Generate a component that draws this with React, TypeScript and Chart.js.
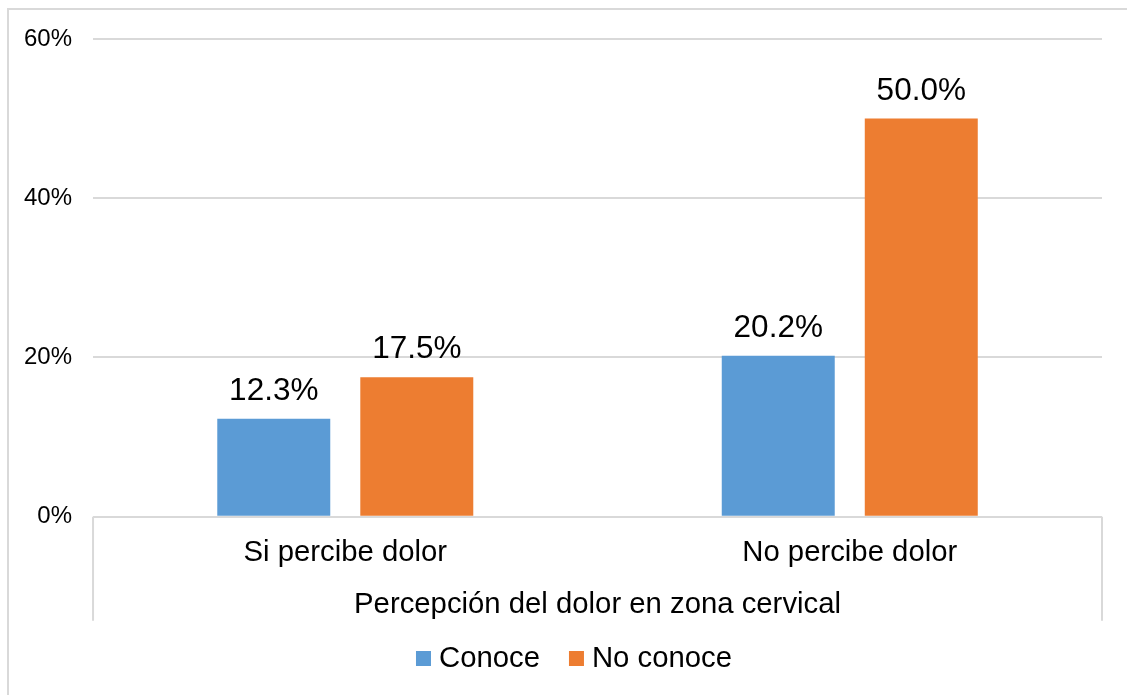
import React, { useEffect, useRef } from "react";
import { Chart, registerables } from "chart.js";

Chart.register(...registerables);

const categories = ["Si percibe dolor", "No percibe dolor"];
const conoce = [12.3, 20.2];
const noConoce = [17.5, 50.0];
const yTicks = [0, 20, 40, 60];
const seriesNames = ["Conoce", "No conoce"];
const axisTitle = "Percepción del dolor en zona cervical";

const FONT = '"Liberation Sans", Arial, sans-serif';
const GRID = "#d9d9d9";

const framePlugin = {
  id: "frame",
  beforeDraw(chart: any) {
    const ctx = chart.ctx;
    ctx.save();
    ctx.fillStyle = "#ffffff";
    ctx.fillRect(0, 0, chart.width, chart.height);
    ctx.fillStyle = GRID;
    ctx.fillRect(7, 8, 2, chart.height - 8);
    ctx.fillRect(7, 8, chart.width - 7, 2);
    ctx.restore();
  },
  afterDraw(chart: any) {
    const ctx = chart.ctx;
    const { left, right } = chart.chartArea;
    const y0 = chart.scales.y.getPixelForValue(0);
    ctx.save();
    ctx.strokeStyle = GRID;
    ctx.lineWidth = 2;
    ctx.beginPath();
    ctx.moveTo(left, y0);
    ctx.lineTo(left, y0 + 104);
    ctx.moveTo(right, y0);
    ctx.lineTo(right, y0 + 104);
    ctx.stroke();
    ctx.restore();
  },
};

const dataLabelPlugin = {
  id: "dataLabels",
  afterDatasetsDraw(chart: any) {
    const ctx = chart.ctx;
    ctx.save();
    ctx.font = `31.5px ${FONT}`;
    ctx.fillStyle = "#000000";
    ctx.textAlign = "center";
    ctx.textBaseline = "alphabetic";
    chart.data.datasets.forEach((ds: any, i: number) => {
      const meta = chart.getDatasetMeta(i);
      meta.data.forEach((bar: any, j: number) => {
        const v = ds.data[j] as number;
        ctx.fillText(v.toFixed(1) + "%", bar.x, bar.y - 19);
      });
    });
    ctx.restore();
  },
};

const legendPlugin = {
  id: "customLegend",
  afterDraw(chart: any) {
    const ctx = chart.ctx;
    ctx.save();
    ctx.font = `29.3px ${FONT}`;
    ctx.textBaseline = "alphabetic";
    ctx.textAlign = "left";
    const box = 15;
    const gapBoxText = 8;
    const gapItems = 29;
    const items = chart.data.datasets.map((ds: any) => ({
      label: ds.label as string,
      color: ds.backgroundColor as string,
      w: ctx.measureText(ds.label).width,
    }));
    let total = 0;
    items.forEach((it: any, i: number) => {
      total += box + gapBoxText + it.w + (i < items.length - 1 ? gapItems : 0);
    });
    const center = 574;
    let x = center - total / 2;
    const baseline = 667;
    items.forEach((it: any) => {
      ctx.fillStyle = it.color;
      ctx.fillRect(x, baseline - 16, box, box);
      ctx.fillStyle = "#000000";
      ctx.fillText(it.label, x + box + gapBoxText, baseline);
      x += box + gapBoxText + it.w + gapItems;
    });
    ctx.restore();
  },
};

export default function App() {
  const ref = useRef<HTMLCanvasElement | null>(null);
  useEffect(() => {
    document.body.style.margin = "0";
    if (!ref.current) return;
    const chart = new Chart(ref.current, {
      type: "bar",
      data: {
        labels: categories,
        datasets: [
          {
            label: seriesNames[0],
            data: conoce,
            backgroundColor: "#5b9bd5",
            categoryPercentage: 0.567,
            barPercentage: 0.79,
          },
          {
            label: seriesNames[1],
            data: noConoce,
            backgroundColor: "#ed7d31",
            categoryPercentage: 0.567,
            barPercentage: 0.79,
          },
        ],
      },
      options: {
        responsive: false,
        animation: false,
        layout: { padding: { top: 39, left: 3, right: 25, bottom: 70 } },
        plugins: {
          legend: { display: false },
          tooltip: { enabled: false },
        },
        scales: {
          x: {
            grid: { display: false, drawTicks: false },
            border: { display: false },
            ticks: {
              padding: 19,
              color: "#000000",
              font: { family: FONT, size: 29.3 },
            },
            title: {
              display: true,
              text: axisTitle,
              color: "#000000",
              font: { family: FONT, size: 29.3 },
              padding: { top: -3, bottom: 3 },
            },
          },
          y: {
            min: 0,
            max: 60,
            afterBuildTicks(scale: any) {
              scale.ticks = yTicks.map((v) => ({ value: v }));
            },
            grid: { color: GRID, lineWidth: 2, drawTicks: false },
            border: { display: false },
            ticks: {
              padding: 21,
              color: "#000000",
              font: { family: FONT, size: 24 },
              callback: (v: any) => v + "%",
            },
          },
        },
      },
      plugins: [framePlugin, dataLabelPlugin, legendPlugin],
    });
    return () => chart.destroy();
  }, []);
  return (
    <canvas
      ref={ref}
      width={1127}
      height={695}
      style={{ display: "block", width: 1127, height: 695 }}
    />
  );
}
